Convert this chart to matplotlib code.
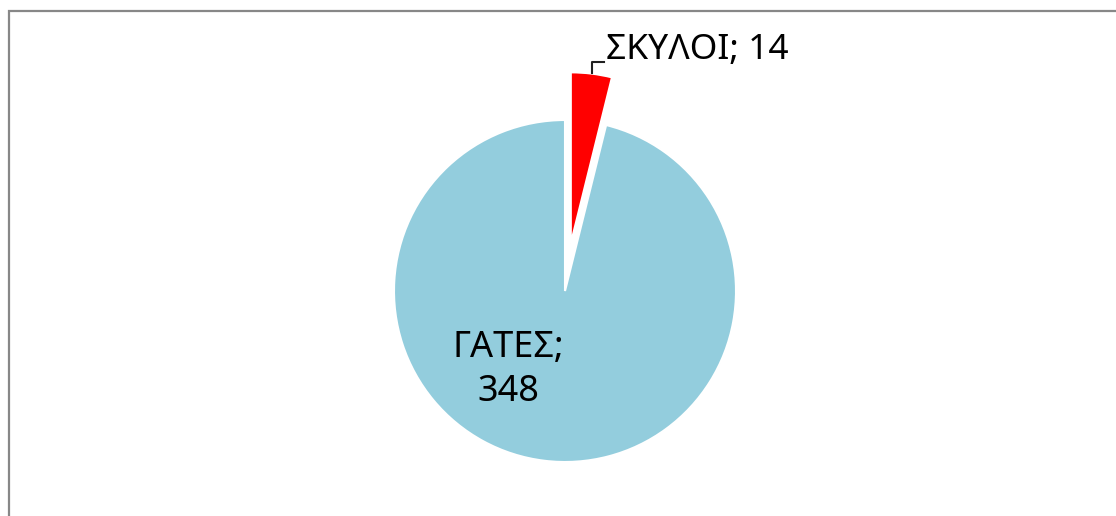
import matplotlib.pyplot as plt
from matplotlib.patches import Rectangle

# chart data
categories = ["ΣΚΥΛΟΙ", "ΓΑΤΕΣ"]
values = [14, 348]
colors = ["#FF0000", "#93CDDD"]

plt.rcParams['font.family'] = ['Noto Sans', 'DejaVu Sans']

W, H = 1116, 516
fig = plt.figure(figsize=(W / 100, H / 100), dpi=100)
ax = fig.add_axes([0, 0, 1, 1])

# pie in pixel units (y up)
cx, cy, r = 565, H - 291, 171
wedges, _ = ax.pie(values, colors=colors, startangle=90, counterclock=False,
                   center=(cx, cy), radius=r, explode=[48, 0],
                   wedgeprops=dict(edgecolor='white', linewidth=1.5),
                   frame=True)
ax.set_xlim(0, W)
ax.set_ylim(0, H)
ax.set_aspect('equal')
ax.axis('off')

# labels
ax.text(606, H - 50, f"{categories[0]}; {values[0]}", fontsize=25.5,
        ha='left', va='center', color='black')
ax.plot([592, 592, 604], [H - 73, H - 62, H - 62], color='#202020', lw=1.5)
ax.text(508, H - 370, f"{categories[1]};\n{values[1]}", fontsize=26,
        ha='center', va='center', color='black', linespacing=1.3)

# chart border (only top and left visible)
ax.add_patch(Rectangle((8.5, -20), 1200, H - 11 + 20, fill=False,
                       edgecolor='#878787', lw=1.6, clip_on=False))

fig.savefig("out.png", dpi=100)
